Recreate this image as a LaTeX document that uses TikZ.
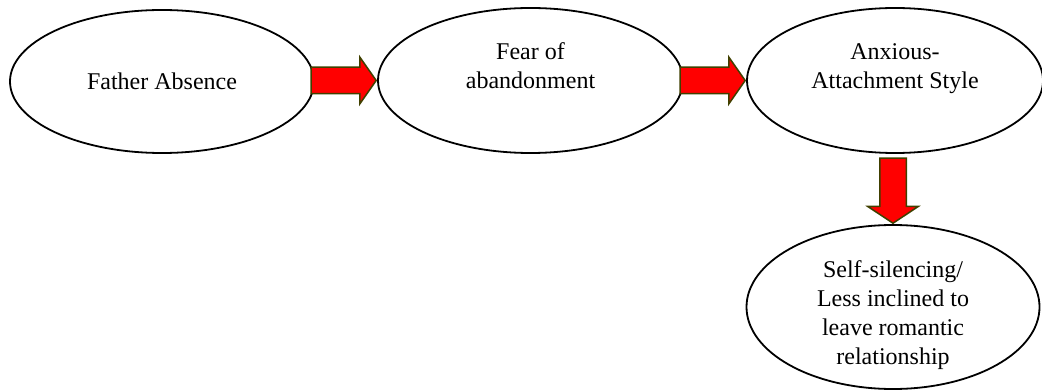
\documentclass[tikz,border=0pt]{standalone}
\usepackage{fontspec}
\setmainfont{Liberation Serif}
\usepackage{tikz}
\usetikzlibrary{shapes}
\usetikzlibrary{shapes.arrows}
\definecolor{arrowline}{RGB}{64,64,0}

\begin{document}
\begin{tikzpicture}[x=0.5pt,y=0.5pt,line width=.9pt,
  bubble/.style={draw=black,ellipse,inner sep=0pt,align=center,font=\fontsize{12}{14.5}\selectfont},
  blockarrow/.style={single arrow,fill=red,draw=arrowline,line width=.75pt,inner sep=0pt,
    text height=12.5pt,text depth=0pt,minimum height=32.5pt,single arrow head extend=5pt,single arrow tip angle=110}]
\useasboundingbox (0,0) rectangle (1042,391);
\node[bubble,minimum width=152pt,minimum height=71.5pt] (father) at (162,309.5) {Father Absence};
\node[bubble,minimum width=152.5pt,minimum height=72.5pt] (fear) at (530.5,310.5) {Fear of\\abandonment\\~};
\node[bubble,minimum width=148pt,minimum height=72.5pt] (anxious) at (895,310.5) {Anxious-\\Attachment Style\\~};
\node[bubble,inner sep=-8pt,minimum width=146.5pt,minimum height=82pt] (silence) at (893,84) {\rule{0pt}{17pt}Self-silencing/\\Less inclined to\\leave romantic\\relationship};
\node[blockarrow,anchor=tip] (a1) at (fear.west) {};
\node[blockarrow,anchor=tip] (a2) at (anxious.west) {};
\node[blockarrow,anchor=tip,rotate=-90,single arrow head extend=6pt,single arrow tip angle=113] (a3) at (silence.north) {};
\end{tikzpicture}
\end{document}
